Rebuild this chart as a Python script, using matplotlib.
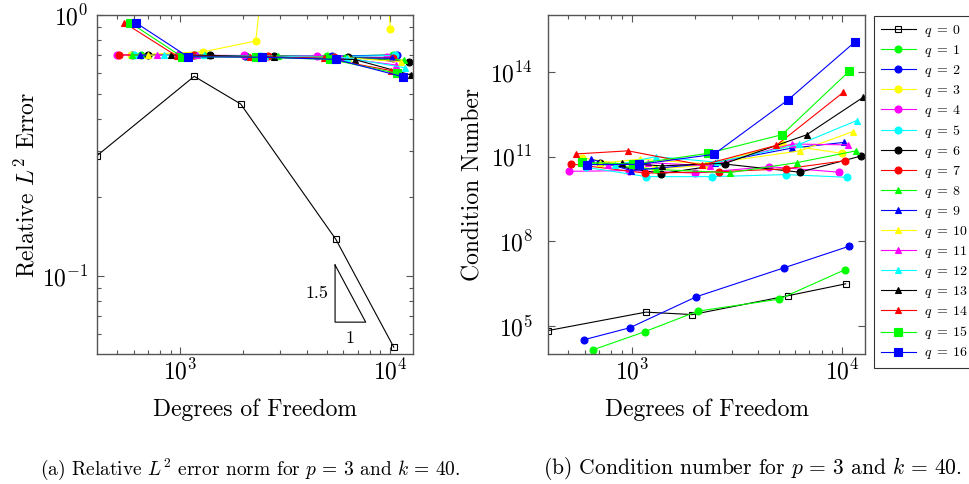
import numpy as np
import matplotlib
matplotlib.use("Agg")
import matplotlib.pyplot as plt
from matplotlib.ticker import NullLocator

plt.rcParams['font.family'] = 'serif'
plt.rcParams['font.serif'] = ['cmr10', 'DejaVu Serif']
plt.rcParams['mathtext.fontset'] = 'cm'
plt.rcParams['axes.formatter.use_mathtext'] = True
plt.rcParams['axes.unicode_minus'] = False

labels = ['$q\\;=\\;%d$' % q for q in range(17)]
colors = ['black', '#00ff00', '#0000ff', '#ffff00', '#ff00ff', '#00ffff', 'black', '#ff0000',
          '#00ff00', '#0000ff', '#ffff00', '#ff00ff', '#00ffff', 'black', '#ff0000', '#00ff00', '#0000ff']
markers = ['s'] + ['o'] * 7 + ['^'] * 7 + ['s'] * 2

# degrees of freedom for each q (5 refinement levels)
dofs = [
    [401, 1166, 1941, 5520, 10420],
    [652, 1154, 2060, 5020, 10380],
    [592, 978, 2027, 5302, 10790],
    [581, 1290, 2290, 5160, 10050],
    [501, 975, 2005, 4495, 9700],
    [605, 1174, 2410, 5420, 10570],
    [703, 1380, 2790, 6300, 12330],
    [513, 1158, 2606, 5420, 10380],
    [589, 1306, 2925, 6100, 11670],
    [641, 996, 2480, 5770, 10250],
    [703, 1092, 2297, 6310, 11240],
    [771, 1200, 2350, 5810, 10720],
    [835, 1303, 2545, 6250, 11750],
    [899, 1390, 2790, 6780, 12590],
    [540, 960, 2160, 4870, 10140],
    [577, 1018, 2297, 5190, 10790],
    [614, 1087, 2455, 5530, 11500],
]

# relative L2 error
errors = [
    [0.289, 0.582, 0.456, 0.138, 0.0533],
    [0.700, 0.700, 0.698, 0.695, 0.703],
    [0.700, 0.700, 0.698, 0.695, 0.703],
    [0.703, 0.723, 0.795, 300.0, 0.884],
    [0.703, 0.700, 0.700, 0.695, 0.688],
    [0.700, 0.700, 0.698, 0.692, 0.700],
    [0.702, 0.700, 0.695, 0.690, 0.662],
    [0.703, 0.700, 0.695, 0.690, 0.683],
    [0.702, 0.700, 0.695, 0.690, 0.672],
    [0.702, 0.700, 0.695, 0.685, 0.683],
    [0.702, 0.700, 0.695, 0.685, 0.662],
    [0.702, 0.700, 0.695, 0.685, 0.643],
    [0.702, 0.700, 0.695, 0.685, 0.628],
    [0.702, 0.700, 0.690, 0.675, 0.589],
    [0.934, 0.697, 0.692, 0.683, 0.612],
    [0.934, 0.692, 0.689, 0.676, 0.598],
    [0.934, 0.692, 0.689, 0.676, 0.580],
]

# condition number
conds = [
    [6.8e4, 3.05e5, 2.5e5, 1.16e6, 3.08e6],
    [1.4e4, 6.2e4, 3.3e5, 8.8e5, 9.9e6],
    [3.2e4, 8.5e4, 1.07e6, 1.14e7, 6.6e7],
    [9e10, 3.6e10, 5e10, 2.7e11, 1.3e11],
    [3e10, 3.2e10, 2.6e10, 4.4e10, 2.8e10],
    [4.2e10, 1.95e10, 1.95e10, 2.3e10, 1.85e10],
    [5.8e10, 2.5e10, 5.4e10, 2.8e10, 1.05e11],
    [5.5e10, 2.6e10, 2.9e10, 3.7e10, 7.2e10],
    [6e10, 3.5e10, 2.7e10, 6.1e10, 1.6e11],
    [8.1e10, 3.2e10, 6e10, 2e11, 3.2e11],
    [5.8e10, 8.1e10, 5.5e10, 1.6e11, 7.7e11],
    [5e10, 6.1e10, 4.7e10, 2.8e11, 2.6e11],
    [5e10, 1e11, 6.3e10, 2.7e11, 1.9e12],
    [5.8e10, 4.7e10, 5.8e10, 5.9e11, 1.26e13],
    [1.24e11, 1.6e11, 5e10, 2.5e11, 1.9e13],
    [6.3e10, 5.4e10, 1.3e11, 6e11, 1.05e14],
    [5.2e10, 5.3e10, 1.2e11, 1.02e13, 1.15e15],
]

fig = plt.figure(figsize=(9.7, 4.84), dpi=100)
ax1 = fig.add_axes([0.1, 0.2686, 0.3258, 0.7004])
ax2 = fig.add_axes([0.5653, 0.2686, 0.3265, 0.7004])


def style(ax):
    ax.set_xscale('log')
    ax.set_yscale('log')
    ax.set_xlim(401, 12870)
    ax.tick_params(which='both', direction='in', top=True, right=True, colors='#555555',
                   labelcolor='black', labelsize=17, width=0.8)
    ax.tick_params(which='major', length=5)
    ax.tick_params(which='minor', length=3)
    for s in ax.spines.values():
        s.set_color('#555555')
        s.set_linewidth(1.0)
    ax.set_xlabel('Degrees of Freedom', fontsize=17, labelpad=10)


handles = []
for q in range(17):
    for ax, vals in ((ax1, errors), (ax2, conds)):
        ms = 5
        if markers[q] == 's':
            ms = 6.3 if q > 0 else 4.5
        face = 'none' if q == 0 else colors[q]
        mec = 'black' if q == 0 else colors[q]
        ln, = ax.plot(dofs[q], vals[q], color=colors[q], marker=markers[q], ms=ms,
                      mfc=face, mec=mec, lw=0.8, mew=0.8, label=labels[q])
    handles.append(ln)

style(ax1)
ax1.set_ylim(0.0502, 1.0)
ax1.tick_params(axis='y', which='major', pad=6)
ax1.set_ylabel('Relative $L^2$ Error', fontsize=17, labelpad=2)

# slope triangle
tx0 = 5470
tx1 = tx0 * 10 ** 0.146
ty0 = 0.0665
ty1 = ty0 * (tx1 / tx0) ** 1.5
ax1.plot([tx0, tx0, tx1, tx0], [ty1, ty0, ty0, ty1], color='black', lw=0.8)
ax1.text(tx0 * 0.93, np.sqrt(ty0 * ty1), '1.5', fontsize=13, ha='right', va='center')
ax1.text(np.sqrt(tx0 * tx1), ty0 * 0.93, '1', fontsize=13, ha='center', va='top')

style(ax2)
ax2.set_ylim(1e4, 1.05e16)
ax2.set_yticks([1e5, 1e8, 1e11, 1e14])
ax2.yaxis.set_minor_locator(NullLocator())
ax2.tick_params(axis='y', which='major', pad=11)
ax2.set_ylabel('Condition Number', fontsize=17, labelpad=4)

leg = fig.legend(handles=handles, loc='upper left', bbox_to_anchor=(874 / 970, 1 - 16 / 484),
                 fontsize=10, frameon=True, fancybox=False, edgecolor='black',
                 handlelength=2.5, labelspacing=0.29, borderpad=0.5, handletextpad=0.6,
                 borderaxespad=0)
leg.get_frame().set_linewidth(0.8)

fig.text(250 / 970, 1 - 469 / 484, '(a) Relative $L^2$ error norm for $p\\,=\\,3$ and $k\\,=\\,40$.',
         fontsize=14, ha='center', va='center')
fig.text(543 / 970, 1 - 469 / 484, '(b) Condition number for $p\\,=\\,3$ and $k\\,=\\,40$.',
         fontsize=15.5, ha='left', va='center')

fig.savefig('out.png', dpi=100)
